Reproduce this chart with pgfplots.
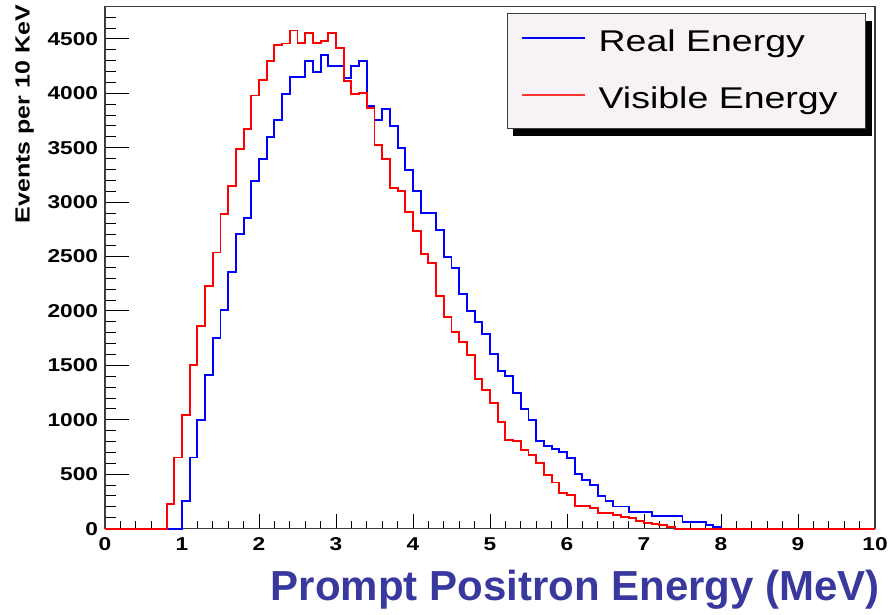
\documentclass[border=0pt]{standalone}
\usepackage{fontspec}
\setmainfont{Liberation Sans}
\usepackage{pgfplots}
\pgfplotsset{compat=1.18}
\newfontfamily\rootfont[FakeStretch=1.22]{Liberation Sans}
\newfontfamily\legfont[FakeStretch=1.25]{Liberation Sans}
\definecolor{labblue}{RGB}{56,56,158}
\definecolor{legfill}{RGB}{246,242,246}
\definecolor{framegray}{RGB}{60,60,60}
\pgfdeclarelayer{background}
\pgfsetlayers{background,main}
\pgfplotsset{
  common/.style={
    at={(105pt,85.4pt)}, anchor=south west, scale only axis,
    width=770pt, height=521.9pt,
    xmin=0, xmax=10, ymin=0, ymax=4796,
    axis line style={framegray, line width=1.3pt},
    tick align=inside,
    every tick/.style={black, line width=1pt},
    /pgf/number format/assume math mode=true,
    /pgf/number format/1000 sep={},
    scaled y ticks=false,
    ticklabel style={font=\rootfont\bfseries\fontsize{18.6}{20}\selectfont, inner sep=0pt},
  }
}
\begin{document}
\begin{tikzpicture}
\useasboundingbox (0pt,0pt) rectangle (890pt,614pt);
% x ticks
\begin{axis}[common,
  ytick=\empty,
  xtick={0,1,...,10}, minor x tick num=4, xtick pos=bottom,
  major tick length=15pt, minor tick length=8pt,
  xticklabel style={yshift=-8.4pt},
]
\end{axis}
% y ticks, data, labels, legend
\begin{axis}[common,
  clip=false,
  xtick=\empty,
  ytick={0,500,...,4500}, minor ytick={100,200,300,400,600,700,800,900,1100,1200,1300,1400,1600,1700,1800,1900,2100,2200,2300,2400,2600,2700,2800,2900,3100,3200,3300,3400,3600,3700,3800,3900,4100,4200,4300,4400,4600,4700},
  ytick pos=left,
  major tick length=24pt, minor tick length=11pt,
  yticklabel style={xshift=-6.7pt},
  ylabel={Events per 10 KeV},
  ylabel style={font=\rootfont\bfseries\fontsize{20.5}{24}\selectfont, at={(rel axis cs:-0.11688,1.00326)}, anchor=north east, inner sep=0pt},
  xlabel={Prompt Positron Energy (MeV)},
  xlabel style={font=\bfseries\fontsize{42}{48}\selectfont, text=labblue, at={(rel axis cs:1.0065,-0.1368)}, anchor=base east, inner sep=0pt},
  legend cell align=left,
  legend style={name=leg, at={(rel axis cs:0.5221,0.9885)}, anchor=north west,
    draw=framegray, line width=0.8pt, fill=legfill,
    inner xsep=14pt, inner ysep=12pt, row sep=23pt, column sep=13pt,
    font=\legfont\fontsize{30}{36}\selectfont,
    nodes={inner sep=0pt, text height=26pt, text depth=8pt}},
]
\addplot[blue, line width=1.9pt, const plot mark left,
  legend image code/.code={\draw[blue, line width=1.2pt] (0pt,4pt) -- (63pt,4pt);}] coordinates {
(0,0) (1.0,251) (1.1,653) (1.2,1001) (1.3,1408) (1.4,1749) (1.5,2006) (1.6,2360) (1.7,2705) (1.8,2851) (1.9,3194) (2.0,3399) (2.1,3601) (2.2,3756) (2.3,3993) (2.4,4146) (2.5,4146) (2.6,4297) (2.7,4199) (2.8,4350) (2.9,4249) (3.0,4249) (3.1,4144) (3.2,4249) (3.3,4297) (3.4,3883) (3.5,3754) (3.6,3856) (3.7,3699) (3.8,3501) (3.9,3296) (4.0,3102) (4.1,2903) (4.2,2903) (4.3,2747) (4.4,2496) (4.5,2392) (4.6,2153) (4.7,2000) (4.8,1896) (4.9,1791) (5.0,1605) (5.1,1451) (5.2,1402) (5.3,1249) (5.4,1096) (5.5,995) (5.6,808) (5.7,756) (5.8,730) (5.9,701) (6.0,652) (6.1,499) (6.2,449) (6.3,401) (6.4,300) (6.5,250) (6.6,203) (6.7,203) (6.8,150) (6.9,150) (7.0,150) (7.1,113) (7.2,113) (7.3,113) (7.4,113) (7.5,60) (7.6,60) (7.7,60) (7.8,37) (7.9,17) (8.0,0) (10,0)
};
\addlegendentry{\makebox[253pt][l]{Real Energy}}
\addplot[red, line width=1.9pt, const plot mark left,
  legend image code/.code={\draw[red!80!white, line width=1.2pt] (0pt,4pt) -- (63pt,4pt);}] coordinates {
(0,0) (0.8,225) (0.9,653) (1.0,1048) (1.1,1507) (1.2,1864) (1.3,2230) (1.4,2537) (1.5,2894) (1.6,3148) (1.7,3490) (1.8,3676) (1.9,3980) (2.0,4119) (2.1,4296) (2.2,4445) (2.3,4458) (2.4,4577) (2.5,4460) (2.6,4555) (2.7,4460) (2.8,4478) (2.9,4552) (3.0,4414) (3.1,4111) (3.2,3994) (3.3,4006) (3.4,3868) (3.5,3525) (3.6,3397) (3.7,3127) (3.8,3102) (3.9,2912) (4.0,2736) (4.1,2524) (4.2,2444) (4.3,2138) (4.4,1948) (4.5,1807) (4.6,1715) (4.7,1593) (4.8,1375) (4.9,1274) (5.0,1151) (5.1,982) (5.2,814) (5.3,805) (5.4,722) (5.5,676) (5.6,600) (5.7,490) (5.8,424) (5.9,324) (6.0,309) (6.1,211) (6.2,211) (6.3,186) (6.4,146) (6.5,146) (6.6,125) (6.7,109) (6.8,95) (6.9,73) (7.0,54) (7.1,40) (7.2,33) (7.3,17) (7.4,0) (10,0)
};
\addlegendentry{\makebox[253pt][l]{Visible Energy}}
\end{axis}
\begin{pgfonlayer}{background}
\fill[black] ([shift={(6pt,-8pt)}]leg.south west) rectangle ([shift={(6pt,-8pt)}]leg.north east);
\end{pgfonlayer}
\end{tikzpicture}
\end{document}
